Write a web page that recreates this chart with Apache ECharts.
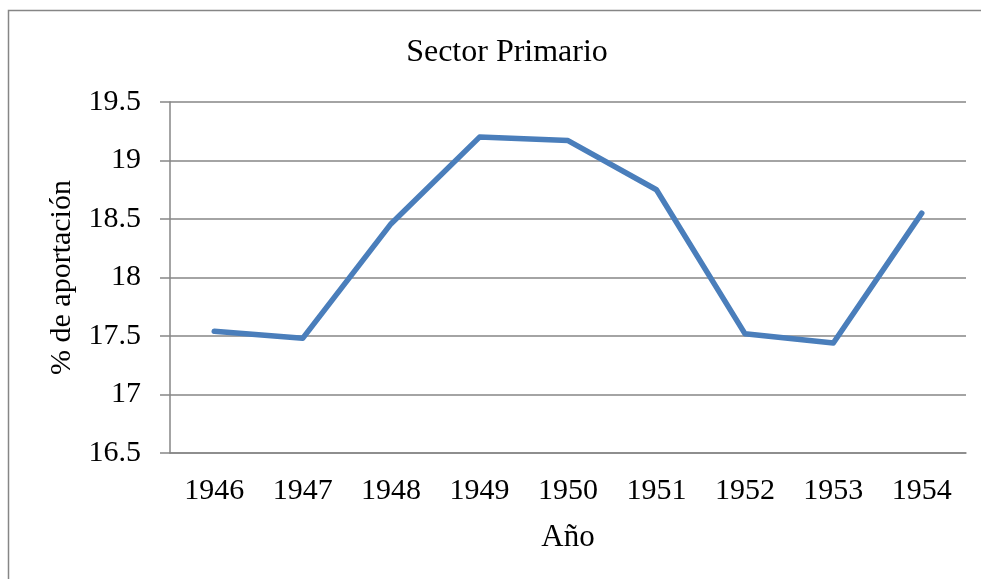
<!DOCTYPE html>
<html>
<head>
<meta charset="utf-8">
<title>Sector Primario</title>
<script src="https://cdn.jsdelivr.net/npm/echarts@6/dist/echarts.min.js"></script>
<style>
	html, body { margin: 0; padding: 0; background: #fff; }
	#chart { width: 981px; height: 579px; }
</style>
</head>
<body>
<div id="chart"></div>
<script>
	// años y % de aportación del sector primario
	var years = ['1946', '1947', '1948', '1949', '1950', '1951', '1952', '1953', '1954'];
	var aportacion = [17.54, 17.48, 18.46, 19.20, 19.17, 18.75, 17.52, 17.44, 18.55];

	var serif = '"Liberation Serif", "Times New Roman", serif';
	var gris = '#868686';

	var chart = echarts.init(document.getElementById('chart'));

	chart.setOption({
		backgroundColor: '#fff',
		animation: false,
		title: {
			text: 'Sector Primario',
			left: 502,
			textAlign: 'center',
			top: 32,
			textStyle: { fontFamily: serif, fontSize: 32, fontWeight: 'normal', color: '#000' }
		},
		// marco del gráfico
		graphic: [{
			type: 'rect',
			shape: { x: 8.5, y: 10.5, width: 1000, height: 600 },
			style: { fill: 'none', stroke: gris, lineWidth: 1.5 },
			silent: true
		}],
		grid: {
			left: 170,
			right: 15,
			top: 102,
			bottom: 126
		},
		xAxis: {
			type: 'category',
			data: years,
			boundaryGap: true,
			name: 'Año',
			nameLocation: 'middle',
			nameGap: 69,
			nameTextStyle: { fontFamily: serif, fontSize: 31, color: '#000' },
			axisLine: { show: true, lineStyle: { color: gris, width: 1.5 } },
			axisTick: { show: false },
			axisLabel: { fontFamily: serif, fontSize: 30, color: '#000', margin: 23 }
		},
		yAxis: {
			type: 'value',
			min: 16.5,
			max: 19.5,
			interval: 0.5,
			name: '% de aportación',
			nameLocation: 'middle',
			nameGap: 86,
			nameTextStyle: { fontFamily: serif, fontSize: 30, color: '#000' },
			axisLine: { show: true, lineStyle: { color: gris, width: 1.5 } },
			axisTick: { show: true, length: 10, lineStyle: { color: gris, width: 1.5 } },
			axisLabel: { fontFamily: serif, fontSize: 30, color: '#000', margin: 29 },
			splitLine: { show: true, lineStyle: { color: gris, width: 1.5 } }
		},
		series: [{
			name: 'Sector Primario',
			type: 'line',
			data: aportacion,
			showSymbol: false,
			symbol: 'none',
			lineStyle: { color: '#4a7ebb', width: 5.5, cap: 'round', join: 'round' },
			itemStyle: { color: '#4a7ebb' }
		}]
	});
</script>
</body>
</html>
